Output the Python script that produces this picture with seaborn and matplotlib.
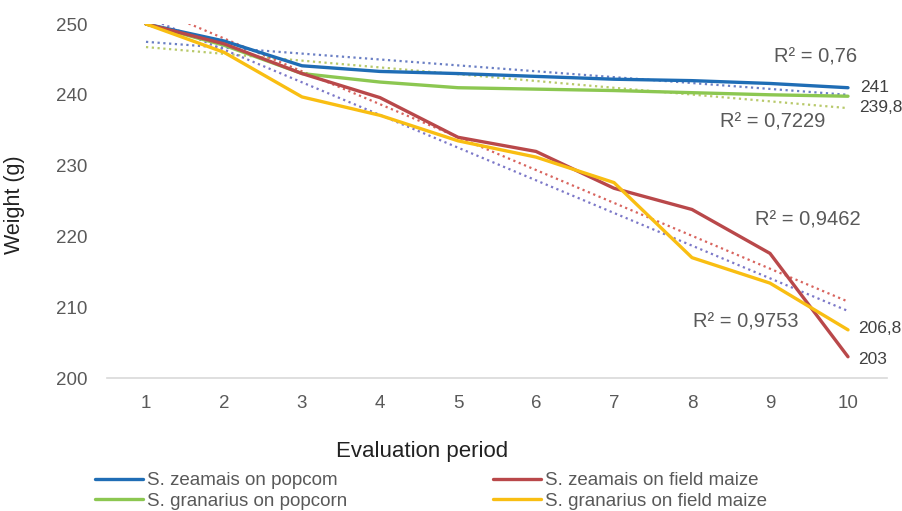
import matplotlib
matplotlib.use("Agg")
import matplotlib.pyplot as plt
import seaborn as sns
import numpy as np
import pandas as pd

periods = [1, 2, 3, 4, 5, 6, 7, 8, 9, 10]
zeamais_popcorn = [250, 247.6, 244.1, 243.3, 243.0, 242.6, 242.2, 242.0, 241.6, 241.0]
granarius_popcorn = [250, 247.0, 243.0, 241.8, 241.0, 240.8, 240.6, 240.3, 240.0, 239.8]
zeamais_field = [250, 247.2, 243.0, 239.6, 234.0, 232.0, 226.8, 223.8, 217.6, 203.0]
granarius_field = [250, 246.0, 239.7, 237.1, 233.5, 231.2, 227.6, 217.0, 213.4, 206.8]

series_names = ["S. zeamais on popcom", "S. granarius on popcorn",
                "S. zeamais on field maize", "S. granarius on field maize"]
series_values = [zeamais_popcorn, granarius_popcorn, zeamais_field, granarius_field]
end_labels = ["241", "239,8", "203", "206,8"]
r2_labels = ["R² = 0,76", "R² = 0,7229", "R² = 0,9462", "R² = 0,9753"]

line_colors = ["#1f6db5", "#8cc751", "#b9484a", "#f9be12"]
trend_colors = ["#6a7fc4", "#b8c96a", "#d8645e", "#7c78c8"]

sns.set_theme(style="white")
plt.rcParams["font.family"] = ["Liberation Sans", "DejaVu Sans"]
gray = "#595959"

W, H = 903, 511
fig = plt.figure(figsize=(W / 100, H / 100), dpi=100)
ax = fig.add_axes([107 / W, (H - 378) / H, 780 / W, 354 / H])

df = pd.DataFrame({"period": periods})
for name, vals in zip(series_names, series_values):
    df[name] = vals

# trendlines
for name, tc in zip(series_names, trend_colors):
    sns.regplot(data=df, x="period", y=name, ax=ax, scatter=False, ci=None,
                truncate=True, line_kws=dict(color=tc, linestyle=(0, (1, 1.6)),
                                             linewidth=1.6), label="_nolegend_")

for name, col in zip(series_names, line_colors):
    sns.lineplot(data=df, x="period", y=name, ax=ax, color=col, linewidth=2.4,
                 label=name)

h, l = ax.get_legend_handles_labels()
if ax.get_legend() is not None:
    ax.get_legend().remove()

ax.set_xlim(0.5, 10.5)
ax.set_ylim(200, 250)
ax.set_xticks(periods)
ax.set_yticks([200, 210, 220, 230, 240, 250])
ax.tick_params(axis="both", colors=gray, labelsize=13.5, length=0)
ax.tick_params(axis="x", pad=12)
ax.tick_params(axis="y", pad=14)
for s in ["top", "right", "left"]:
    ax.spines[s].set_visible(False)
ax.spines["bottom"].set_color("#d9d9d9")
ax.spines["bottom"].set_linewidth(1.2)
ax.grid(False)
ax.set_xlabel("Evaluation period", color="#222222", fontsize=16)
ax.xaxis.set_label_coords(0.404, -0.178)
ax.set_ylabel("Weight (g)", color="#222222", fontsize=15.5)
ax.yaxis.set_label_coords(-0.105, 0.49)

# end labels
offsets = [(9, 0), (8, -8), (7, -2), (7, 1)]
for vals, lab, off in zip(series_values, end_labels, offsets):
    ax.annotate(lab, xy=(periods[-1], vals[-1]), xytext=off, textcoords="offset points",
                ha="left", va="center", color="#404040", fontsize=12.5, annotation_clip=False)

# R² labels
r2_pos = [(9.58, 245.3), (9.03, 236.2), (9.49, 222.3), (8.69, 207.9)]
for lab, (x, y) in zip(r2_labels, r2_pos):
    ax.text(x, y, lab, ha="center", va="center", color=gray, fontsize=14.5)

for idx, xpix in [((0, 1), 95), ((2, 3), 493)]:
    leg = fig.legend([h[i] for i in idx], [l[i] for i in idx], ncol=1,
                     loc="upper left", bbox_to_anchor=(xpix / W, (H - 472) / H),
                     frameon=False, fontsize=13.5, handlelength=2.55,
                     handletextpad=0.25, labelspacing=0.2, borderpad=0,
                     borderaxespad=0)
    for t in leg.get_texts():
        t.set_color(gray)

fig.savefig("out.png", dpi=100)
